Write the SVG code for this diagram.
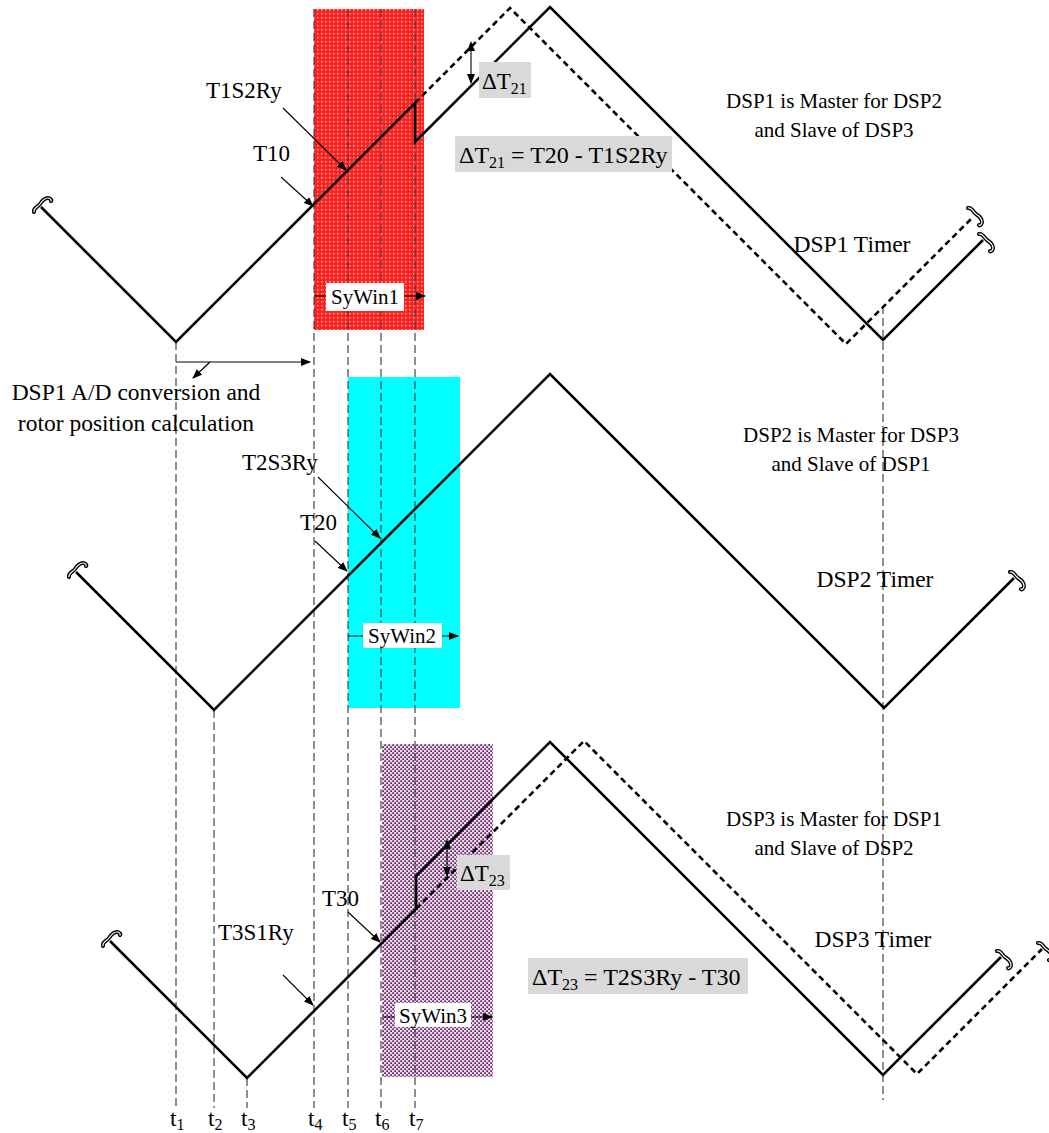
<svg xmlns="http://www.w3.org/2000/svg" width="1049" height="1133" viewBox="0 0 1049 1133">
<defs>
<style>
text{font-family:"Liberation Serif","Times New Roman",serif;fill:#000;}
.t{font-size:21px;}
.big{font-size:23.5px;}
.lbl{font-size:23px;}
.eq{font-size:24px;}
.sub{font-size:16px;}
.vd{stroke:#444;stroke-width:1.2;stroke-dasharray:8 4;fill:none;}
.w{stroke:#000;stroke-width:2.6;fill:none;stroke-linejoin:miter;}
.wd{stroke:#000;stroke-width:2.6;fill:none;stroke-dasharray:6 4;}
.pt{stroke:#000;stroke-width:1.1;fill:none;}
.box{fill:#d9d9d9;}
.wb{fill:#fff;}
.brk{stroke:#000;stroke-width:4;fill:none;stroke-linecap:round;}
.brki{stroke:#fff;stroke-width:1.2;fill:none;stroke-linecap:round;}
</style>
<pattern id="redp" width="4" height="4" patternUnits="userSpaceOnUse">
<rect width="4" height="4" fill="#ff2020"/>
<rect x="1" y="1" width="1.5" height="1.5" fill="#ffb0a8"/>
</pattern>
<pattern id="chk" width="4" height="4" patternUnits="userSpaceOnUse">
<rect width="4" height="4" fill="#ffc8ff"/>
<rect x="0.25" y="0.25" width="1.75" height="1.75" fill="#444"/>
<rect x="2.25" y="2.25" width="1.75" height="1.75" fill="#444"/>
</pattern>
<marker id="ah" markerWidth="10" markerHeight="8" refX="9" refY="4" orient="auto" markerUnits="userSpaceOnUse">
<path d="M0,0 L10,4 L0,8 z" fill="#000"/>
</marker>
<marker id="ahs" markerWidth="10" markerHeight="8" refX="1" refY="4" orient="auto-start-reverse" markerUnits="userSpaceOnUse">
<path d="M0,0 L10,4 L0,8 z" fill="#000"/>
</marker>
<path id="sqL" d="M-8,6 C-9,2 -4,1 -2,-2 C0,-5 2,-8 6,-8 C8,-8 10,-6 9,-5"/>
<path id="sqR" d="M-6,-8 C-2,-9 -1,-4 2,-2 C5,0 8,2 8,6 C8,8 6,10 5,9"/>
<g id="brkL"><use href="#sqL" class="brk"/><use href="#sqL" class="brki"/></g>
<g id="brkR"><use href="#sqR" class="brk"/><use href="#sqR" class="brki"/></g>
</defs>

<g id="windows">
<rect id="sywin1-rect" x="314" y="9" width="110" height="321" fill="url(#redp)"/>
<rect id="sywin2-rect" x="348" y="377" width="112" height="331" fill="#00ffff"/>
<rect id="sywin3-rect" x="382" y="744" width="111" height="333" fill="url(#chk)"/>
</g>

<g id="time-lines">
<line class="vd" x1="176" y1="342" x2="176" y2="1108"/>
<line class="vd" x1="214" y1="710" x2="214" y2="1108"/>
<line class="vd" x1="247" y1="1078" x2="247" y2="1108"/>
<line class="vd" x1="314" y1="9" x2="314" y2="1108"/>
<line class="vd" x1="348" y1="9" x2="348" y2="1108"/>
<line class="vd" x1="381" y1="9" x2="381" y2="1108"/>
<line class="vd" x1="415" y1="9" x2="415" y2="1108"/>
<line class="vd" x1="883" y1="306" x2="883" y2="1100"/>
</g>

<g id="dsp1-timer">
<path class="w" d="M41,207 L176,342 L415,103 L415,142 L550,7 L883,340 L983,240"/>
<path class="wd" d="M415,103 L510,8 L846,344 L972,218"/>
<use href="#brkL" x="42" y="206"/>
<use href="#brkR" x="985" y="242"/>
<use href="#brkR" x="974" y="216"/>
</g>

<g id="dsp2-timer">
<path class="w" d="M76,572 L214,710 L550,374 L884,708 L1014,578"/>
<use href="#brkL" x="77" y="571"/>
<use href="#brkR" x="1016" y="580"/>
</g>

<g id="dsp3-timer">
<path class="w" d="M110,941 L247,1078 L416,909 L416,876 L550,742 L883,1075 L1001,957"/>
<path class="wd" d="M416,909 L584,741 L917,1074 L1042,949"/>
<use href="#brkL" x="111" y="940"/>
<use href="#brkR" x="1003" y="959"/>
<use href="#brkR" x="1044" y="951"/>
</g>

<g id="connectors">
<line class="pt" x1="283" y1="108" x2="346" y2="170" marker-end="url(#ah)"/>
<line class="pt" x1="281" y1="177" x2="313" y2="206" marker-end="url(#ah)"/>
<line class="pt" x1="318" y1="477" x2="380" y2="538" marker-end="url(#ah)"/>
<line class="pt" x1="315" y1="541" x2="347" y2="571" marker-end="url(#ah)"/>
<line class="pt" x1="348" y1="912" x2="380" y2="942" marker-end="url(#ah)"/>
<line class="pt" x1="283" y1="975" x2="313" y2="1005" marker-end="url(#ah)"/>
<line x1="176" y1="362" x2="310" y2="362" stroke="#555" stroke-width="1.4" marker-end="url(#ah)"/>
<line class="pt" x1="210" y1="362" x2="193" y2="378" marker-end="url(#ah)"/>
<line class="pt" x1="314" y1="296" x2="425" y2="296" marker-end="url(#ah)"/>
<line class="pt" x1="348" y1="636" x2="458" y2="636" marker-end="url(#ah)"/>
<line class="pt" x1="382" y1="1017" x2="492" y2="1017" marker-end="url(#ah)"/>
<line class="pt" x1="471" y1="50" x2="471" y2="83" marker-start="url(#ahs)" marker-end="url(#ah)"/>
<line class="pt" x1="447" y1="848" x2="447" y2="876" marker-start="url(#ahs)" marker-end="url(#ah)"/>
</g>

<g id="labels">
<g id="sywin1"><rect class="wb" x="326" y="283" width="78" height="28"/><text class="t" x="365" y="304" text-anchor="middle">SyWin1</text></g>
<g id="sywin2"><rect class="wb" x="363" y="623" width="79" height="25"/><text class="t" x="402" y="643" text-anchor="middle">SyWin2</text></g>
<g id="sywin3"><rect class="wb" x="395" y="1003" width="76" height="24"/><text class="t" x="433" y="1023" text-anchor="middle">SyWin3</text></g>

<g id="dt21"><rect class="box" x="479" y="62" width="52" height="36"/><text class="lbl" x="482" y="89">ΔT<tspan class="sub" dy="5">21</tspan></text></g>
<g id="dt21-eq"><rect class="box" x="455" y="136" width="217" height="36"/><text class="eq" x="459" y="163">ΔT<tspan class="sub" dy="5">21</tspan><tspan dy="-5"> = T20 - T1S2Ry</tspan></text></g>
<g id="dt23"><rect class="box" x="457" y="855" width="53" height="35"/><text class="lbl" x="460" y="881">ΔT<tspan class="sub" dy="5">23</tspan></text></g>
<g id="dt23-eq"><rect class="box" x="528" y="958" width="220" height="36"/><text class="eq" x="532" y="985">ΔT<tspan class="sub" dy="5">23</tspan><tspan dy="-5"> = T2S3Ry - T30</tspan></text></g>

<text class="lbl" x="206" y="98">T1S2Ry</text>
<text class="lbl" x="253" y="161">T10</text>
<text class="lbl" x="242" y="470">T2S3Ry</text>
<text class="lbl" x="300" y="530">T20</text>
<text class="lbl" x="322" y="906">T30</text>
<text class="lbl" x="218" y="940">T3S1Ry</text>

<text class="big" x="136" y="400" text-anchor="middle">DSP1 A/D conversion and</text>
<text class="big" x="136" y="431" text-anchor="middle">rotor position calculation</text>

<text class="t" x="834" y="108" text-anchor="middle">DSP1 is Master for DSP2</text>
<text class="t" x="834" y="137" text-anchor="middle">and Slave of DSP3</text>
<text class="big" x="852" y="252" text-anchor="middle">DSP1 Timer</text>

<text class="t" x="851" y="442" text-anchor="middle">DSP2 is Master for DSP3</text>
<text class="t" x="851" y="471" text-anchor="middle">and Slave of DSP1</text>
<text class="big" x="875" y="587" text-anchor="middle">DSP2 Timer</text>

<text class="t" x="834" y="826" text-anchor="middle">DSP3 is Master for DSP1</text>
<text class="t" x="834" y="855" text-anchor="middle">and Slave of DSP2</text>
<text class="big" x="873" y="947" text-anchor="middle">DSP3 Timer</text>

<g id="t-axis">
<text class="big" x="170" y="1126">t<tspan class="sub" dy="4">1</tspan></text>
<text class="big" x="208" y="1126">t<tspan class="sub" dy="4">2</tspan></text>
<text class="big" x="241" y="1126">t<tspan class="sub" dy="4">3</tspan></text>
<text class="big" x="308" y="1126">t<tspan class="sub" dy="4">4</tspan></text>
<text class="big" x="342" y="1126">t<tspan class="sub" dy="4">5</tspan></text>
<text class="big" x="375" y="1126">t<tspan class="sub" dy="4">6</tspan></text>
<text class="big" x="409" y="1126">t<tspan class="sub" dy="4">7</tspan></text>
</g>
</g>
</svg>
